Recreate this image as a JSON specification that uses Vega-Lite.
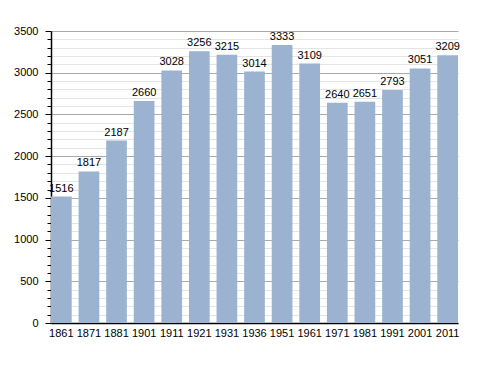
{
  "$schema": "https://vega.github.io/schema/vega-lite/v6.json",
  "autosize": "none",
  "width": 407,
  "height": 292,
  "padding": {"left": 51, "top": 31, "right": 30, "bottom": 50},
  "background": "white",
  "config": {"view": {"stroke": null}, "font": "Liberation Sans"},
  "data": {"values": [
    {"year": "1861", "pop": 1516},
    {"year": "1871", "pop": 1817},
    {"year": "1881", "pop": 2187},
    {"year": "1901", "pop": 2660},
    {"year": "1911", "pop": 3028},
    {"year": "1921", "pop": 3256},
    {"year": "1931", "pop": 3215},
    {"year": "1936", "pop": 3014},
    {"year": "1951", "pop": 3333},
    {"year": "1961", "pop": 3109},
    {"year": "1971", "pop": 2640},
    {"year": "1981", "pop": 2651},
    {"year": "1991", "pop": 2793},
    {"year": "2001", "pop": 3051},
    {"year": "2011", "pop": 3209}
  ]},
  "encoding": {
    "x": {"field": "year", "type": "ordinal", "sort": null,
      "scale": {"paddingInner": 0.25, "paddingOuter": 0},
      "axis": {"title": null, "labelAngle": 0, "ticks": false, "domainColor": "black", "domainWidth": 1.5,
        "labelFontSize": 11, "labelColor": "black", "labelPadding": 4}},
    "y": {"field": "pop", "type": "quantitative",
      "scale": {"domain": [0, 3500], "nice": false},
      "axis": {"title": null,
        "values": [0,100,200,300,400,500,600,700,800,900,1000,1100,1200,1300,1400,1500,1600,1700,1800,1900,2000,2100,2200,2300,2400,2500,2600,2700,2800,2900,3000,3100,3200,3300,3400,3500],
        "labelExpr": "datum.value % 500 === 0 ? datum.label : ''",
        "format": "d",
        "grid": true,
        "gridColor": {"condition": {"test": "datum.value % 500 === 0 && datum.value > 0", "value": "#aaaaaa"}, "value": "#e4e4e4"},
        "tickSize": {"condition": {"test": "datum.value % 500 === 0", "value": 6}, "value": 4},
        "tickColor": "black",
        "domainColor": "black", "domainWidth": 1.5,
        "labelFontSize": 11, "labelColor": "black", "labelPadding": 7}}
  },
  "layer": [
    {"mark": {"type": "bar", "color": "#9bb3d0"}},
    {"mark": {"type": "text", "baseline": "bottom", "dy": -3, "fontSize": 11, "color": "black"},
      "encoding": {"text": {"field": "pop", "type": "quantitative", "format": "d"}}}
  ]
}
